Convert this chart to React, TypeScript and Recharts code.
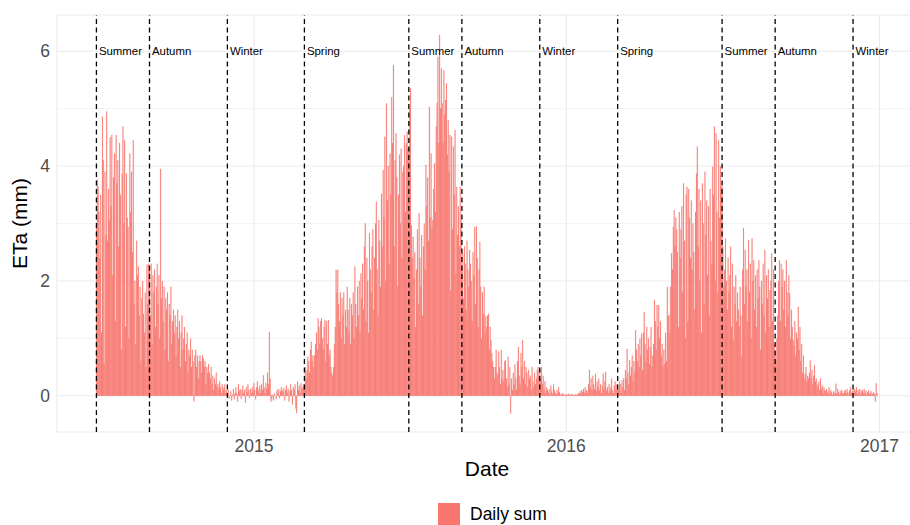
import React from "react";
import {
  BarChart,
  Bar,
  XAxis,
  YAxis,
  CartesianGrid,
  ReferenceLine,
  ReferenceDot,
  Legend,
} from "recharts";

// daily ETa (mm)
const summer2014 = [
  2.94, 3.76, 3.64, 3.2, 2.4, 3.5, 1.1, 4.86, 4.1, 0.56,
  3.9, 2.8, 4.95, 2.7, 3.6, 3.06, 4.5, 3.3, 4.54, 2.1,
  3.8, 4.22, 1.3, 4.54, 3.7, 4.1, 2.6, 4.4, 3.5, 0.8,
  3.87, 4.69, 3.0, 4.45, 1.2, 3.87, 3.1, 2.94, 1.0, 4.22,
  3.2, 3.9, 2.5, 4.45, 1.6, 2.0, 0.9, 2.7, 2.1, 2.25,
  1.4, 1.9, 0.6, 1.7, 2.0, 1.43, 1.1, 1.8, 0.5, 2.28, 1.6, 2.3,
];
const autumn2014 = [
  2.2, 1.4, 2.3, 0.9, 2.1, 1.8, 2.2, 1.2, 1.9, 2.3,
  1.6, 2.1, 1.0, 3.95, 1.7, 2.0, 1.3, 1.9, 0.8, 1.7,
  1.5, 1.8, 0.6, 1.6, 1.4, 1.9, 0.9, 1.3, 1.5, 1.1,
  1.4, 0.7, 1.2, 1.5, 1.0, 1.3, 0.5, 1.1, 1.4, 0.8,
  1.0, 1.2, 0.6, 0.9, 1.1, 0.4, 0.8, 0.7, 1.0, 0.5,
  0.8, 0.6, -0.1, 0.7, 0.8, 0.5, 0.7, 0.3, 0.6, 0.7,
  0.6, 0.4, 0.7, 0.65, 0.5, 0.6, 0.2, 0.5, 0.4, 0.55,
  0.4, 0.3, 0.5, 0.2, 0.35, 0.1, 0.3, 0.2, 0.4, 0.15,
  0.2, 0.1, 0.25, 0.15, 0.05, 0.2, 0.1, 0.15, 0.2, 0.05, 0.1,
];
const winter2014 = [
  0.05, 0.1, -0.05, 0.0, 0.08, -0.08, 0.02, 0.12, -0.06, 0.05,
  0.15, 0.05, -0.1, 0.2, 0.08, 0.12, -0.05, 0.1, 0.18, 0.05,
  0.1, -0.12, 0.15, 0.06, 0.2, 0.1, -0.04, 0.12, 0.05, 0.15,
  0.08, 0.22, 0.1, -0.06, 0.15, 0.25, 0.08, 0.12, 0.18, 0.05,
  0.2, 0.1, 0.36, 0.15, 0.05, 0.22, 0.12, 0.4, 0.2, 1.11,
  0.3, -0.1, -0.05, 0.02, -0.08, 0.04, 0.0, -0.06, 0.1, 0.05,
  0.12, -0.04, 0.08, 0.15, 0.1, 0.06, 0.14, -0.08, 0.1, 0.18,
  0.05, 0.12, -0.1, 0.08, 0.2, 0.1, -0.15, 0.15, 0.1, 0.2,
  -0.22, -0.3, 0.25, 0.1, 0.18, 0.05, 0.22, 0.12, 0.15, 0.2,
];
const spring2015 = [
  0.2, 0.5, 0.3, 0.45, 0.68, 0.6, 0.4, 0.8, 0.94, 0.6,
  0.7, 0.5, 0.7, 0.9, 1.1, 0.8, 1.35, 1.2, 0.9, 1.3,
  1.35, 1.0, 0.8, 1.2, 1.32, 0.6, 1.3, 0.9, 1.32, 0.7,
  0.8, 0.5, 0.4, 0.35, 0.5, 0.9, 1.2, 2.19, 1.8, 2.2,
  1.6, 1.3, 1.8, 1.0, 1.7, 1.4, 1.8, 0.9, 1.5, 1.2,
  1.9, 1.5, 1.1, 1.7, 0.9, 1.6, 1.4, 1.8, 1.0, 2.25,
  1.6, 1.2, 1.9, 1.4, 2.0, 1.1, 2.13, 1.7, 2.3, 1.5,
  2.6, 3.0, 1.3, 2.4, 2.0, 1.1, 2.83, 2.2, 1.8, 2.6,
  2.9, 1.5, 2.4, 3.0, 3.38, 2.2, 1.4, 3.06, 2.7, 1.9,
  3.52, 2.6, 3.93, 3.1, 4.51, 2.0, 5.09, 3.4, 4.0, 2.3,
  4.22, 3.5, 5.2, 4.4, 5.76, 2.6, 4.1, 4.57, 3.8, 1.9,
  3.5, 4.2, 3.0, 4.3, 2.4, 3.9, 4.0, 4.54, 3.2, 4.4, 4.6, 4.3,
];
const summer2015 = [
  4.3, 5.0, 5.35, 2.97, 2.4, 2.77, 2.05, 2.5, 1.2, 2.2,
  2.9, 1.6, 3.18, 2.4, 1.9, 2.8, 1.4, 2.6, 3.0, 2.2,
  4.02, 3.3, 3.8, 2.7, 5.03, 3.1, 4.22, 2.9, 3.06, 3.6,
  4.05, 3.2, 4.69, 5.1, 5.9, 4.4, 6.28, 5.0, 5.7, 5.09,
  4.4, 5.67, 4.9, 5.15, 5.44, 4.2, 4.8, 3.9, 4.54, 1.84,
  4.51, 2.9, 4.34, 3.5, 4.63, 2.13, 3.64, 2.8, 3.3, 2.6, 3.64, 3.06,
];
const autumn2015 = [
  2.2, 2.48, 1.7, 2.6, 2.3, 1.5, 2.7, 2.2, 1.9, 2.54,
  2.3, 2.0, 1.3, 2.5, 2.1, 2.94, 1.6, 2.95, 2.4, 1.2,
  2.2, 2.68, 1.9, 1.0, 1.8, 1.43, 1.9, 1.1, 1.38, 1.2,
  1.4, 1.43, 0.8, 1.2, 0.97, 0.74, 0.6, 0.5, 0.3, 0.5,
  0.8, 0.4, 0.35, 0.77, 0.5, 0.2, 0.8, 0.3, 0.45, 0.25,
  0.6, 0.62, 0.3, 0.15, 0.68, 0.2, 0.5, -0.31, 0.3, 0.1,
  0.4, 0.2, 0.55, 0.3, 0.1, 0.6, 0.85, 0.35, 0.2, 0.74,
  0.5, 0.97, 0.3, 0.6, 0.2, 0.5, 0.4, 0.15, 0.45, 0.3,
  0.35, 0.1, 0.5, 0.25, 0.15, 0.4, 0.2, 0.3, 0.45, 0.5, 0.35,
];
const winter2015 = [
  0.45, 0.3, 0.5, 0.2, 0.35, 0.1, 0.25, 0.05, 0.15, 0.1,
  0.05, 0.12, 0.02, 0.18, 0.08, 0.03, 0.2, 0.1, 0.05, 0.02,
  0.1, 0.04, 0.15, 0.06, 0.01, 0.03, 0.02, 0.05, 0.01, 0.02,
  0.01, 0.03, 0.02, 0.01, 0.04, 0.02, 0.01, 0.03, 0.02, 0.01,
  0.02, 0.01, 0.03, 0.01, 0.02, 0.05, 0.03, 0.08, 0.04, 0.1,
  0.06, 0.12, 0.05, 0.15, 0.08, 0.1, 0.05, 0.2, 0.45, 0.15,
  0.3, 0.1, 0.35, 0.2, 0.12, 0.38, 0.08, 0.25, 0.15, 0.3,
  0.1, 0.2, 0.05, 0.18, 0.39, 0.12, 0.25, 0.42, 0.1, 0.15,
  0.05, 0.2, 0.08, 0.15, 0.3, 0.1, 0.05, 0.18, 0.25, 0.1, 0.2,
];
const spring2016 = [
  0.15, 0.1, 0.25, 0.2, 0.05, 0.27, 0.15, 0.3, 0.1, 0.45,
  0.3, 0.82, 0.4, 0.2, 0.62, 0.35, 0.5, 0.7, 0.25, 0.6,
  0.4, 1.14, 0.8, 0.6, 0.9, 0.5, 1.0, 0.7, 1.08, 0.45,
  1.1, 1.46, 0.9, 0.6, 1.2, 0.8, 1.0, 0.55, 0.85, 1.2,
  0.5, 0.7, 0.9, 1.67, 1.3, 0.8, 1.58, 1.2, 1.58, 1.0,
  1.3, 0.7, 0.9, 0.5, 0.8, 0.56, 1.1, 0.6, 1.9, 1.4,
  1.4, 1.1, 1.9, 2.48, 2.2, 2.94, 3.23, 2.6, 3.1, 2.9,
  2.5, 1.2, 3.2, 2.4, 2.9, 3.3, 1.8, 3.7, 2.7, 1.0,
  3.5, 3.64, 1.3, 3.6, 3.1, 2.4, 3.4, 2.2, 3.0, 2.5,
  1.5, 3.2, 3.87, 4.34, 2.6, 3.6, 2.0, 3.4, 1.1, 3.7,
  3.0, 1.6, 3.9, 2.8, 3.4, 2.1, 3.3, 1.4, 3.6, 2.7,
  2.3, 3.99, 3.5, 4.69, 2.0, 4.57, 3.2, 1.8, 4.45, 3.1, 4.0, 3.64,
];
const summer2016 = [
  3.64, 2.6, 1.9, 2.2, 2.74, 2.0, 1.5, 2.4, 1.8, 2.1,
  2.6, 1.2, 2.3, 0.97, 1.9, 1.6, 2.1, 1.3, 1.8, 1.5,
  1.2, 1.9, 1.4, 0.68, 2.2, 2.92, 1.6, 2.54, 1.9, 2.2,
  1.3, 2.71, 1.8, 2.3, 1.0, 2.74, 2.0, 2.36, 1.5, 2.1,
  1.2, 2.2, 1.7, 2.36, 1.9, 0.8, 2.0, 1.6, 2.3, 1.4,
  2.54, 1.1, 2.1, 1.7, 2.2, 1.2, 1.84, 2.0, 2.48, 1.3, 2.2, 0.9,
];
const autumn2016 = [
  0.74, 0.6, 1.0, 1.4, 2.0, 2.36, 1.3, 2.3, 1.9, 2.2,
  1.5, 2.0, 1.2, 2.36, 1.8, 1.4, 2.1, 1.78, 1.0, 1.5,
  1.2, 0.97, 0.88, 1.3, 0.7, 1.1, 1.0, 1.55, 0.8, 1.2,
  0.6, 0.9, 0.4, 0.7, 0.3, 0.39, 0.5, 0.25, 0.35, 0.3,
  0.4, 0.62, 0.3, 0.45, 0.2, 0.35, 0.53, 0.25, 0.3, 0.15,
  0.2, 0.25, 0.1, 0.3, 0.12, 0.18, 0.05, 0.15, 0.1, 0.08,
  0.12, 0.05, 0.08, 0.15, 0.03, 0.1, 0.06, 0.02, 0.08, 0.05,
  0.05, 0.21, 0.03, 0.12, 0.06, 0.02, 0.09, 0.04, 0.1, 0.05,
  0.03, 0.08, 0.1, 0.04, 0.12, 0.06, 0.02, 0.1, 0.15, 0.05, 0.08,
];
const winter2016 = [
  0.1, 0.05, 0.12, 0.08, 0.15, 0.03, 0.1, 0.06, 0.12, 0.02,
  0.08, 0.1, 0.05, 0.12, 0.04, 0.09, 0.02, 0.06, 0.1, 0.03,
  0.05, 0.08, 0.02, 0.04, 0.06, 0.03, -0.1, 0.22, 0.05,
];

const firstDay = "2014-07-01";
const lastDay = "2017-01-01";

const seasonStarts = [
  "2014-07-01", "2014-09-01", "2014-12-01", "2015-03-01", "2015-07-01",
  "2015-09-01", "2015-12-01", "2016-03-01", "2016-07-01", "2016-09-01",
  "2016-12-01",
];
const seasonNames = [
  "Summer", "Autumn", "Winter", "Spring", "Summer", "Autumn", "Winter",
  "Spring", "Summer", "Autumn", "Winter",
];
const yearTicks = ["2015-01-01", "2016-01-01", "2017-01-01"];
const yTicks = [0, 2, 4, 6];
const yMinor = [1, 3, 5];

const daily = [
  ...summer2014, ...autumn2014, ...winter2014, ...spring2015, ...summer2015,
  ...autumn2015, ...winter2015, ...spring2016, ...summer2016, ...autumn2016,
  ...winter2016,
];

const data: { date: string; eta: number | null }[] = [];
{
  const t0 = Date.parse(firstDay + "T00:00:00Z");
  for (let i = 0; ; i++) {
    const date = new Date(t0 + i * 86400000).toISOString().slice(0, 10);
    data.push({ date, eta: i < daily.length ? daily[i] : null });
    if (date === lastDay) break;
  }
}

const FONT = "'Liberation Sans', Arial, Helvetica, sans-serif";

const yTitle = ({ viewBox }: any) => {
  const cy = viewBox.y + viewBox.height / 2;
  return (
    <text
      x={27}
      y={cy}
      transform={`rotate(-90 27 ${cy})`}
      textAnchor="middle"
      fontSize={21}
      fill="#000"
    >
      ETa (mm)
    </text>
  );
};

const legendContent = (props: any) => {
  const item = props.payload && props.payload[0];
  return (
    <div style={{ position: "relative", height: 30 }}>
      <div
        style={{
          position: "absolute",
          left: 438,
          top: 8,
          width: 22,
          height: 22,
          background: "#F8766D",
        }}
      />
      <span
        style={{
          position: "absolute",
          left: 470,
          top: 9,
          fontSize: 17.5,
          lineHeight: "20px",
          color: "#000",
          whiteSpace: "nowrap",
        }}
      >
        {item ? item.value : "Daily sum"}
      </span>
    </div>
  );
};

export default function App() {
  return (
    <div
      style={{
        position: "absolute",
        left: 0,
        top: 0,
        width: 910,
        height: 525,
        overflow: "hidden",
        background: "#fff",
        fontFamily: FONT,
      }}
    >
      <BarChart
        width={917}
        height={525}
        data={data}
        margin={{ top: 15, right: 0, bottom: 0, left: 0 }}
        barCategoryGap="0%"
      >
        <CartesianGrid stroke="#EBEBEB" strokeWidth={1.1} />
        <CartesianGrid
          stroke="#EBEBEB"
          strokeWidth={0.55}
          vertical={false}
          horizontalValues={yMinor}
        />
        <XAxis
          dataKey="date"
          ticks={yearTicks}
          interval={0}
          tickFormatter={(d: string) => d.slice(0, 4)}
          axisLine={false}
          tickLine={false}
          tickSize={0}
          tickMargin={8}
          height={63}
          padding={{ left: 39, right: 37 }}
          tick={{ fontSize: 17.5, fill: "#4D4D4D" }}
          label={{ value: "Date", position: "insideBottom", offset: 19, fontSize: 21, fill: "#000" }}
        />
        <YAxis
          type="number"
          domain={[-0.63, 6.63]}
          ticks={yTicks}
          allowDataOverflow
          axisLine={false}
          tickLine={false}
          tickSize={0}
          tickMargin={7}
          width={57}
          tick={{ fontSize: 17.5, fill: "#4D4D4D" }}
          label={{ content: yTitle }}
        />
        <Legend verticalAlign="bottom" height={30} content={legendContent} />
        <Bar
          dataKey="eta"
          name="Daily sum"
          fill="#F8766D"
          stroke="#F8766D"
          strokeWidth={0.15}
          isAnimationActive={false}
          legendType="rect"
        />
        {seasonStarts.map((d) => (
          <ReferenceLine
            key={"l" + d}
            x={d}
            stroke="#000"
            strokeWidth={1.3}
            strokeDasharray="5 3.5"
          />
        ))}
        {seasonStarts.map((d, i) => (
          <ReferenceDot
            key={"t" + d}
            x={d}
            y={6}
            r={0}
            fill="none"
            stroke="none"
            label={{
              value: seasonNames[i],
              position: "right",
              offset: 2.5,
              fontSize: 11.4,
              fill: "#000",
            }}
          />
        ))}
      </BarChart>
    </div>
  );
}
